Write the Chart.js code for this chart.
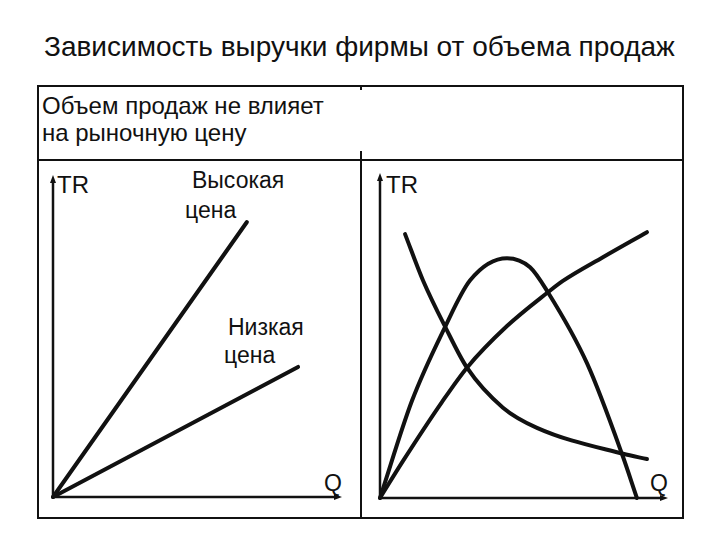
<!DOCTYPE html>
<html>
<head>
<meta charset="utf-8">
<script src="https://cdn.jsdelivr.net/npm/chart.js@4.4.1/dist/chart.umd.min.js"></script>
<style>
  html, body { margin: 0; padding: 0; background: #fff; }
  #wrap { position: relative; width: 720px; height: 540px; overflow: hidden; background: #fff;
          font-family: "Liberation Sans", Arial, sans-serif; color: #111; }
  .t { position: absolute; white-space: nowrap; line-height: 1; }
  .ln { position: absolute; background: #111; }
  canvas { position: absolute; }
</style>
</head>
<body>
<div id="wrap">
  <div class="t" id="title" style="left:44px; top:33px; font-size:28px;">Зависимость выручки фирмы от объема продаж</div>

  <!-- frame -->
  <div class="ln" style="left:37px; top:85px; width:647px; height:1.5px;"></div>
  <div class="ln" style="left:37px; top:517px; width:647px; height:1.5px;"></div>
  <div class="ln" style="left:37px; top:85px; width:1.5px; height:434px;"></div>
  <div class="ln" style="left:682px; top:85px; width:1.5px; height:434px;"></div>
  <div class="ln" style="left:37px; top:159px; width:647px; height:1.5px;"></div>
  <div class="ln" style="left:360px; top:85px; width:1.5px; height:5px;"></div>
  <div class="ln" style="left:360px; top:151px; width:1.5px; height:367px;"></div>

  <div class="t" style="left:42px; top:94px; font-size:24px;">Объем продаж не влияет</div>
  <div class="t" style="left:42px; top:121px; font-size:24px;">на рыночную цену</div>

  <div class="t" style="left:57px; top:173px; font-size:24px;">TR</div>
  <div class="t" style="left:192px; top:169px; font-size:23px;">Высокая</div>
  <div class="t" style="left:185px; top:199px; font-size:23px;">цена</div>
  <div class="t" style="left:228px; top:316px; font-size:23px;">Низкая</div>
  <div class="t" style="left:224px; top:344px; font-size:23px;">цена</div>
  <div class="t" style="left:324px; top:472px; font-size:23px;">Q</div>

  <div class="t" style="left:386px; top:173px; font-size:24px;">TR</div>
  <div class="t" style="left:650px; top:472px; font-size:23px;">Q</div>

  <canvas id="left"></canvas>
  <canvas id="right"></canvas>
</div>
<script>
// ---- Data (Q = volume of sales, TR = total revenue; axis units 0..100) ----
const highPriceQ  = [0, 67.1];
const highPriceTR = [0, 85.4];
const lowPriceQ   = [0, 84.8];
const lowPriceTR  = [0, 40.4];

const humpQ  = [0, 11.1, 22.2, 31.3, 44.1, 52.1, 58.3, 71.9, 84.0, 89.2];
const humpTR = [0, 29.9, 51.9, 67.0, 73.8, 71.0, 63.3, 41.4, 13.6, 0];

const concaveQ  = [0, 8.0, 21.5, 30.2, 44.1, 58.3, 63.5, 77.4, 92.7];
const concaveTR = [0, 11.4, 29.5, 40.1, 52.9, 63.3, 66.8, 74.1, 81.8];

const fallingQ  = [8.7, 14.9, 22.9, 30.2, 42.7, 54.5, 84.4, 92.7];
const fallingTR = [81.2, 67.0, 52.2, 40.1, 27.8, 21.6, 13.6, 12.0];

const axisMax = 100;

function pts(xs, ys) { return xs.map((x, i) => ({ x: x, y: ys[i] })); }

const INK = '#111';

const axesPlugin = {
  id: 'arrowAxes',
  beforeDatasetsDraw(chart) {
    const { ctx, scales: { x, y } } = chart;
    const x0 = x.getPixelForValue(0), y0 = y.getPixelForValue(0);
    const xe = x.getPixelForValue(axisMax), ye = y.getPixelForValue(axisMax);
    ctx.save();
    ctx.strokeStyle = INK; ctx.fillStyle = INK; ctx.lineWidth = 2.5; ctx.lineCap = 'butt';
    ctx.beginPath();
    ctx.moveTo(x0, y0); ctx.lineTo(xe - 6, y0);
    ctx.moveTo(x0, y0); ctx.lineTo(x0, ye + 6);
    ctx.stroke();
    ctx.beginPath();
    ctx.moveTo(xe, y0); ctx.lineTo(xe - 8, y0 - 3); ctx.lineTo(xe - 8, y0 + 3); ctx.closePath();
    ctx.moveTo(x0, ye); ctx.lineTo(x0 - 3, ye + 8); ctx.lineTo(x0 + 3, ye + 8); ctx.closePath();
    ctx.fill();
    ctx.restore();
  }
};

function makeChart(id, left, top, w, h, datasets) {
  const pad = 12;
  const cv = document.getElementById(id);
  cv.width = w + 2 * pad; cv.height = h + 2 * pad;
  cv.style.left = (left - pad) + 'px'; cv.style.top = (top - pad) + 'px';
  return new Chart(cv, {
    type: 'scatter',
    data: { datasets: datasets.map(d => ({
      data: d, showLine: true, borderColor: INK, borderWidth: 4,
      pointRadius: 0, pointHoverRadius: 0, cubicInterpolationMode: 'monotone',
      borderCapStyle: 'round', clip: false, fill: false
    })) },
    options: {
      responsive: false, animation: false, devicePixelRatio: 1,
      layout: { padding: pad },
      plugins: { legend: { display: false }, tooltip: { enabled: false } },
      events: [],
      scales: {
        x: { type: 'linear', min: 0, max: axisMax, display: false },
        y: { type: 'linear', min: 0, max: axisMax, display: false }
      }
    },
    plugins: [axesPlugin]
  });
}

makeChart('left', 53, 175, 289, 322, [
  pts(highPriceQ, highPriceTR),
  pts(lowPriceQ, lowPriceTR)
]);

makeChart('right', 380, 173, 288, 325, [
  pts(humpQ, humpTR),
  pts(concaveQ, concaveTR),
  pts(fallingQ, fallingTR)
]);
</script>
</body>
</html>
